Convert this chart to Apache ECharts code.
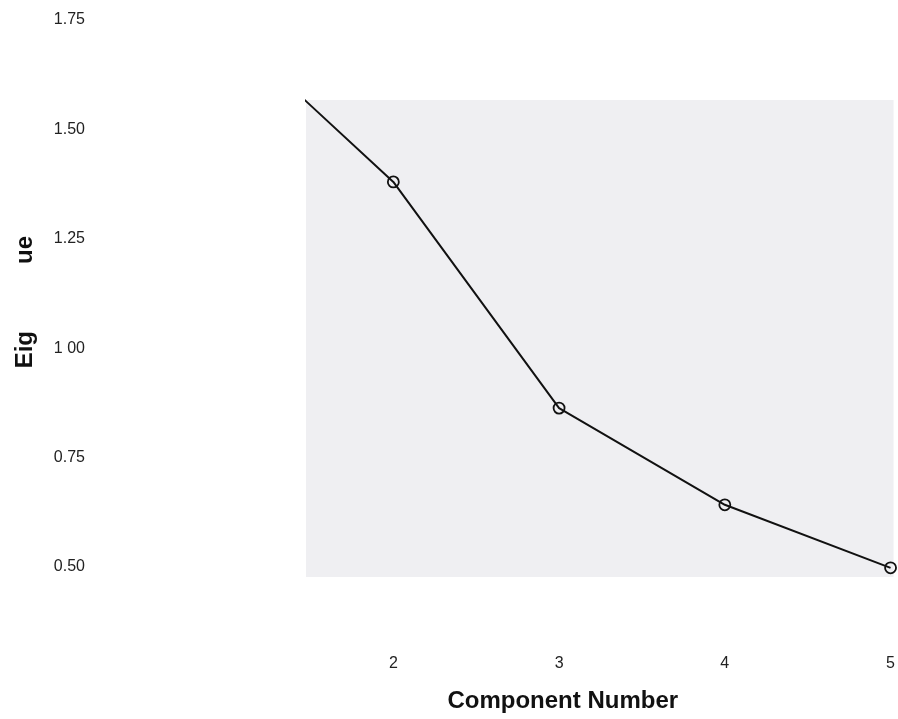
<!DOCTYPE html>
<html>
<head>
<meta charset="utf-8">
<script src="https://cdn.jsdelivr.net/npm/echarts@6/dist/echarts.min.js"></script>
<style>html,body{margin:0;padding:0;background:#fff}#c{width:898px;height:719px}</style>
</head>
<body>
<div id="c"></div>
<script>
const components = [1, 2, 3, 4, 5];
const eigenvalues = [1.73, 1.38, 0.863, 0.642, 0.498];
const xTicks = [2, 3, 4, 5];
const yTicks = [0.5, 0.75, 1.0, 1.25, 1.5, 1.75];
const yTickLabels = ['0.50', '0.75', '1 00', '1.25', '1.50', '1.75'];

const chart = echarts.init(document.getElementById('c'));
const font = 'Liberation Sans, Arial, sans-serif';
chart.setOption({
  animation: false,
  backgroundColor: '#ffffff',
  grid: { left: 306, right: 0, top: 20, bottom: 142, containLabel: false },
  xAxis: {
    type: 'value', min: 1.473, max: 5.018,
    axisLine: { show: false }, axisTick: { show: false }, splitLine: { show: false },
    axisLabel: { customValues: xTicks, margin: 79, color: '#222', fontSize: 16, fontFamily: font },
    name: 'Component Number', nameLocation: 'middle', nameGap: 112,
    nameTextStyle: { fontSize: 24, fontWeight: 'bold', color: '#111', fontFamily: font,
      padding: [0, 74, 0, 0] }
  },
  yAxis: {
    type: 'value', min: 0.477, max: 1.75,
    axisLine: { show: false }, axisTick: { show: false }, splitLine: { show: false },
    axisLabel: {
      customValues: yTicks, margin: 221, color: '#222', fontSize: 16, fontFamily: font,
      formatter: function (v) {
        let i = yTicks.findIndex(t => Math.abs(t - v) < 1e-6);
        return i >= 0 ? yTickLabels[i] : '';
      }
    }
  },
  graphic: [
    { type: 'text', left: 13, top: 331, rotation: Math.PI / 2,
      style: { text: 'Eig', fontSize: 24, fontWeight: 'bold', fill: '#111', fontFamily: font } },
    { type: 'text', left: 13, top: 236, rotation: Math.PI / 2,
      style: { text: 'ue', fontSize: 24, fontWeight: 'bold', fill: '#111', fontFamily: font } }
  ],
  series: [{
    type: 'line',
    data: components.map((c, i) => [c, eigenvalues[i]]),
    symbol: 'circle', symbolSize: 11, clip: true,
    lineStyle: { color: '#111', width: 2 },
    itemStyle: { color: 'rgba(0,0,0,0)', borderColor: '#111', borderWidth: 1.8 },
    markArea: {
      silent: true,
      itemStyle: { color: '#efeff2' },
      data: [[{ coord: [1.473, 0.477] }, { coord: [5.018, 1.567] }]]
    },
    z: 3
  }]
});
</script>
</body>
</html>
